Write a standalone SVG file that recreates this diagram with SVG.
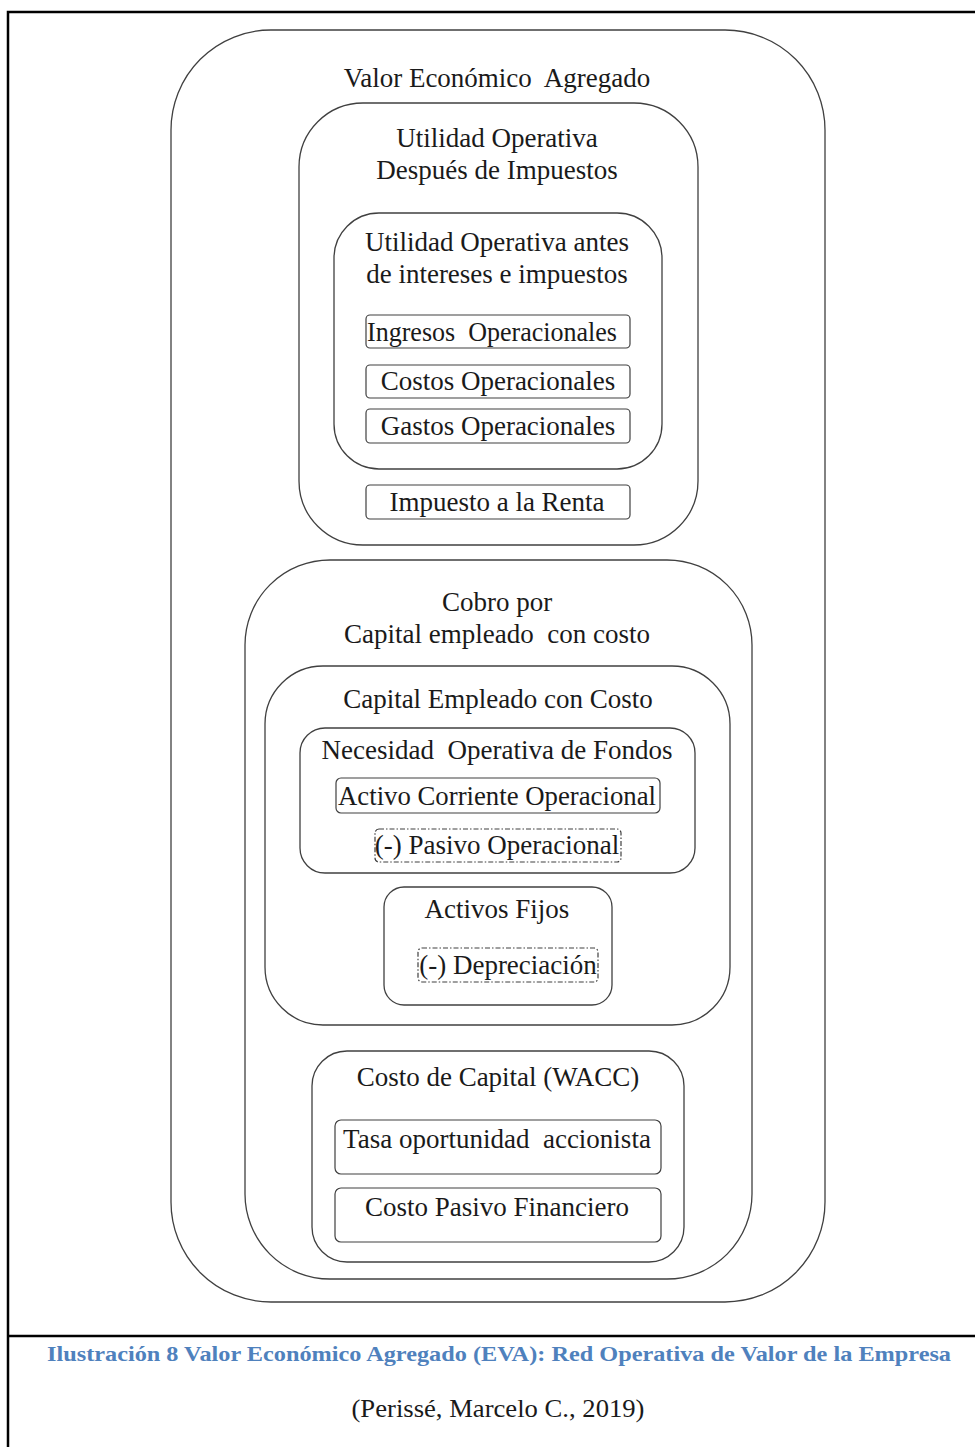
<svg xmlns="http://www.w3.org/2000/svg" width="975" height="1447" viewBox="0 0 975 1447">
<style>
.frame{fill:none;stroke:#000;stroke-width:2.5}
.big{fill:none;stroke:#404040;stroke-width:1.3}
.sm{fill:none;stroke:#404040;stroke-width:1.2}
.dot{fill:none;stroke:#404040;stroke-width:1.2;stroke-dasharray:5 2 1.5 2}
text{font-family:"Liberation Serif","Times New Roman",serif;font-size:27px;fill:#1a1a1a;text-anchor:middle;white-space:pre}
.cap{font-weight:bold;fill:#4f81bd;font-size:22px}
</style>
<rect width="975" height="1447" fill="#fff"/>
<g id="frame">
<path class="frame" d="M975 12 H8 V1447 M8 1336 H975"/>
</g>
<g id="eva">
<rect class="big" x="171" y="30" width="654" height="1272" rx="100"/>
<text x="497" y="87">Valor Económico  Agregado</text>
</g>
<g id="nopat">
<rect class="big" x="299" y="103" width="399" height="442" rx="64"/>
<text x="497" y="147">Utilidad Operativa</text>
<text x="497" y="179">Después de Impuestos</text>
</g>
<g id="ebit">
<rect class="big" x="334" y="213" width="328" height="256" rx="45"/>
<text x="497" y="251">Utilidad Operativa antes</text>
<text x="497" y="283">de intereses e impuestos</text>
</g>
<g id="ingresos">
<rect class="sm" x="366" y="315" width="264" height="33" rx="4"/>
<text x="492" y="341" textLength="250" lengthAdjust="spacingAndGlyphs">Ingresos  Operacionales</text>
</g>
<g id="costos">
<rect class="sm" x="366" y="365" width="264" height="33" rx="4"/>
<text x="498" y="390">Costos Operacionales</text>
</g>
<g id="gastos">
<rect class="sm" x="366" y="409" width="264" height="34" rx="4"/>
<text x="498" y="435">Gastos Operacionales</text>
</g>
<g id="impuesto">
<rect class="sm" x="366" y="485" width="264" height="34" rx="4"/>
<text x="497" y="511">Impuesto a la Renta</text>
</g>
<g id="cobro">
<rect class="big" x="245" y="560" width="507" height="719" rx="85"/>
<text x="497" y="611">Cobro por</text>
<text x="497" y="643">Capital empleado  con costo</text>
</g>
<g id="capital">
<rect class="big" x="265" y="666" width="465" height="359" rx="58"/>
<text x="498" y="708">Capital Empleado con Costo</text>
</g>
<g id="nof">
<rect class="big" x="300" y="728" width="395" height="145" rx="25"/>
<text x="497" y="759">Necesidad  Operativa de Fondos</text>
</g>
<g id="activo-corriente">
<rect class="sm" x="336" y="778" width="324" height="35" rx="5"/>
<text x="497" y="805" textLength="318" lengthAdjust="spacingAndGlyphs">Activo Corriente Operacional</text>
</g>
<g id="pasivo">
<rect class="dot" x="375" y="829" width="246" height="33" rx="4"/>
<text x="497" y="854">(-) Pasivo Operacional</text>
</g>
<g id="activos-fijos">
<rect class="big" x="384" y="887" width="228" height="118" rx="20"/>
<text x="497" y="918">Activos Fijos</text>
</g>
<g id="depreciacion">
<rect class="dot" x="418" y="948" width="180" height="34" rx="4"/>
<text x="508" y="974">(-) Depreciación</text>
</g>
<g id="wacc">
<rect class="big" x="312" y="1051" width="372" height="211" rx="35"/>
<text x="498" y="1086">Costo de Capital (WACC)</text>
</g>
<g id="tasa">
<rect class="sm" x="335" y="1120" width="326" height="54" rx="6"/>
<text x="497" y="1148">Tasa oportunidad  accionista</text>
</g>
<g id="pasivo-fin">
<rect class="sm" x="335" y="1188" width="326" height="54" rx="6"/>
<text x="497" y="1216">Costo Pasivo Financiero</text>
</g>
<g id="caption">
<text class="cap" x="499" y="1361" textLength="904" lengthAdjust="spacingAndGlyphs">Ilustración 8 Valor Económico Agregado (EVA): Red Operativa de Valor de la Empresa</text>
<text x="498" y="1417" textLength="293" lengthAdjust="spacingAndGlyphs" style="font-size:25px">(Perissé, Marcelo C., 2019)</text>
</g>
<g id="connectors"></g>
</svg>
